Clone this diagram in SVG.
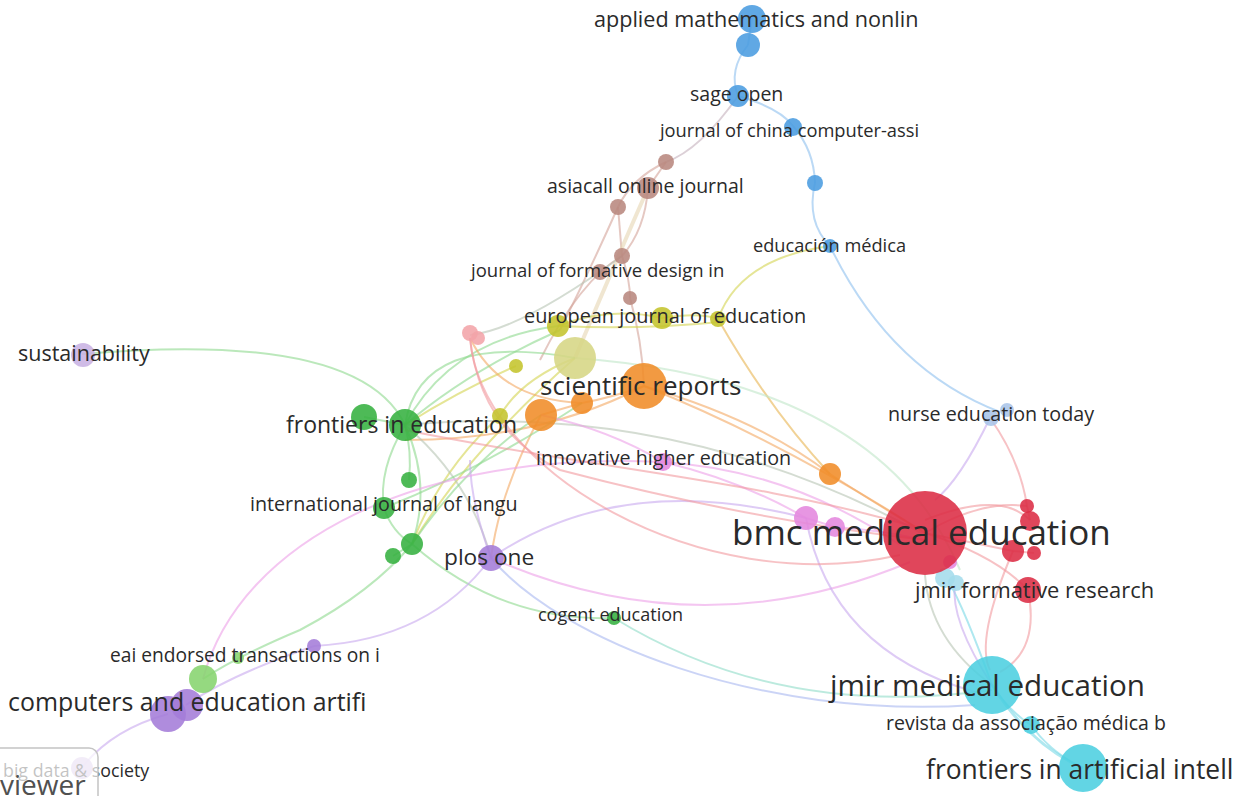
<svg xmlns="http://www.w3.org/2000/svg" width="1252" height="796" viewBox="0 0 1252 796">
<style>
text{font-family:"Open Sans","Noto Sans","Liberation Sans",sans-serif;fill:#2a2a2a}
.e{fill:none;stroke-width:2;stroke-opacity:.6}
.bl{stroke:#8ec0ee}.br{stroke:#d4a49a}.ye{stroke:#d4d450}.or{stroke:#f4a862}.gr{stroke:#8ed88e}
.pu{stroke:#c8a8ee}.pk{stroke:#eca0e8}.rd{stroke:#f29a9e}.cy{stroke:#7ad8e6}.gy{stroke:#b8c4b4}
.lg{stroke:#bfe6c8}.bp{stroke:#a8b8f0}
circle{opacity:.88}
.cB{fill:#4a9ce0}.cBr{fill:#b8877e}.cY{fill:#c4c42c}.cYp{fill:#d6d684}.cO{fill:#f08c28}.cG{fill:#36b040}
.cLG{fill:#86d46e}.cP{fill:#a47cd8}.cLP{fill:#c8b2e2}.cPk{fill:#e488de}.cR{fill:#dc2c44}.cS{fill:#f2a4a8}
.cC{fill:#4ccfe0}.cLC{fill:#a4dcec}.cN{fill:#a8c4e8}
</style>
<g id="edges">
<path class="e bl" d="M752,18 L748,45"/>
<path class="e bl" d="M748,45 Q728,70 738,96"/>
<path class="e bl" d="M738,96 Q780,108 793,126"/>
<path class="e bl" d="M793,126 Q814,150 815,183"/>
<path class="e bl" d="M815,183 Q806,222 830,246"/>
<path class="e bl" d="M830,246 Q890,370 1000,412"/>
<path class="e br" style="stroke:#c4b0bc" d="M738,96 Q700,150 666,162"/>
<path class="e br" d="M666,162 L648,188"/>
<path class="e br" d="M666,162 Q632,178 618,207"/>
<path class="e br" d="M618,207 L622,256"/>
<path class="e br" d="M648,188 Q645,230 622,256"/>
<path class="e br" d="M622,256 Q630,280 630,298"/>
<path class="e br" d="M618,207 Q590,270 560,330"/>
<path class="e br" d="M622,256 Q580,280 540,360"/>
<path class="e" style="stroke:#e6d6b2;stroke-width:4" d="M648,188 Q612,270 575,358"/>
<path class="e br" d="M630,298 Q642,340 644,386"/>
<path class="e gy" d="M622,256 Q520,330 470,335"/>
<path class="e ye" d="M558,326 Q610,306 662,318 Q700,312 718,319"/>
<path class="e ye" d="M718,319 Q740,258 830,246"/>
<path class="e ye" style="stroke:#e8b450" d="M718,319 Q770,410 830,474"/>
<path class="e ye" d="M575,358 Q520,380 500,416"/>
<path class="e ye" d="M558,326 Q640,330 720,322"/>
<path class="e gr" d="M558,326 Q450,340 405,425"/>
<path class="e ye" d="M575,358 Q470,450 412,544"/>
<path class="e ye" d="M500,416 Q440,470 412,544"/>
<path class="e ye" d="M516,366 Q460,390 405,425"/>
<path class="e or" d="M644,386 Q610,398 582,403"/>
<path class="e or" d="M582,403 L541,415"/>
<path class="e or" d="M644,386 Q780,440 925,533"/>
<path class="e or" d="M830,474 Q870,500 925,533"/>
<path class="e or" d="M644,386 Q760,420 830,474"/>
<path class="e or" d="M582,403 Q500,400 470,338"/>
<path class="e or" d="M644,386 Q540,440 405,440"/>
<path class="e or" d="M541,415 Q500,490 491,558"/>
<path class="e gr" d="M364,417 L405,425"/>
<path class="e gr" d="M405,425 Q412,452 409,480"/>
<path class="e gr" d="M405,425 Q378,470 384,508"/>
<path class="e gr" d="M405,425 Q432,485 412,544"/>
<path class="e gr" d="M384,508 Q392,532 412,544"/>
<path class="e gr" d="M412,544 L393,556"/>
<path class="e gr" d="M405,425 Q360,330 82,354"/>
<path class="e gr" d="M203,679 Q238,656 300,630 Q372,592 412,544"/>
<path class="e gr" d="M412,544 Q500,622 614,618"/>
<path class="e gr" style="stroke:#90dcc8" d="M614,618 Q780,720 992,690"/>
<path class="e gy" d="M405,425 Q470,480 491,558"/>
<path class="e gr" d="M405,425 Q470,370 560,330"/>
<path class="e gr" d="M412,544 Q470,460 541,415"/>
<path class="e gr" d="M405,425 Q420,330 575,358"/>
<path class="e gy" d="M405,425 Q680,400 925,535"/>
<path class="e lg" d="M575,358 Q880,380 960,570"/>
<path class="e gr" d="M384,508 Q480,470 582,403"/>
<path class="e pu" d="M491,558 Q470,500 470,460"/>
<path class="e pu" d="M491,558 Q620,470 806,518"/>
<path class="e pk" d="M491,558 Q700,650 910,562"/>
<path class="e bp" d="M491,558 C560,640 760,720 975,705"/>
<path class="e pu" d="M491,558 Q430,640 314,646"/>
<path class="e pu" d="M314,646 Q230,675 186,705"/>
<path class="e pu" d="M168,714 Q110,730 80,770"/>
<path class="e pk" d="M203,679 C240,540 420,450 663,462"/>
<path class="e pk" d="M541,415 Q610,430 663,462"/>
<path class="e pk" d="M663,462 Q740,480 806,518"/>
<path class="e pk" d="M806,518 L835,527"/>
<path class="e pk" d="M835,527 Q880,530 925,540"/>
<path class="e pk" d="M663,462 Q790,470 900,545"/>
<path class="e pu" d="M806,518 Q830,650 975,692"/>
<path class="e rd" d="M925,533 Q980,500 1027,506"/>
<path class="e rd" d="M925,533 L1013,551"/>
<path class="e rd" d="M925,533 Q995,555 1028,590"/>
<path class="e rd" d="M1013,551 L1034,553"/>
<path class="e rd" d="M1027,506 L1030,520"/>
<path class="e rd" d="M925,520 Q1000,490 1030,520"/>
<path class="e rd" d="M470,338 Q480,430 560,470 Q750,520 925,540"/>
<path class="e rd" d="M470,338 C480,470 700,600 900,555"/>
<path class="e rd" d="M405,430 C600,470 760,480 925,530"/>
<path class="e rd" d="M990,418 Q1020,460 1027,506"/>
<path class="e pu" d="M990,418 Q960,480 935,500"/>
<path class="e rd" d="M1028,590 Q1040,650 1000,672"/>
<path class="e rd" d="M1013,551 Q975,640 990,670"/>
<path class="e cy" d="M992,685 Q1010,712 1031,725"/>
<path class="e cy" d="M1031,725 Q1050,752 1083,768"/>
<path class="e cy" style="stroke-width:3" d="M992,685 Q1030,745 1083,768"/>
<path class="e cy" d="M992,685 Q965,610 948,580"/>
<path class="e gy" d="M992,685 Q930,640 925,575"/>
<path class="e pu" d="M992,685 Q950,620 955,585"/>
</g>
<g id="n-am1"><circle class="cB" cx="748" cy="45" r="12"/></g>
<g id="n-applied"><circle class="cB" cx="752" cy="19" r="14"/><text x="594" y="27" font-size="21.6">applied mathematics and nonlin</text></g>
<g id="n-sage"><circle class="cB" cx="738" cy="96" r="11"/><text x="690" y="101" font-size="19.5">sage open</text></g>
<g id="n-china"><circle class="cB" cx="793" cy="127" r="9"/><text x="660" y="137" font-size="18.3">journal of china computer-assi</text></g>
<g id="n-b4"><circle class="cB" cx="815" cy="183" r="8"/></g>
<g id="n-edmed"><circle class="cB" cx="830" cy="246" r="7"/><text x="753" y="252" font-size="18.2">educación médica</text></g>
<g id="n-nurse"><circle class="cN" cx="1007" cy="410" r="7"/><circle class="cN" cx="991" cy="418" r="8"/><text x="888" y="421" font-size="19.7">nurse education today</text></g>
<g id="n-br1"><circle class="cBr" cx="666" cy="162" r="8"/></g>
<g id="n-br2"><circle class="cBr" cx="618" cy="207" r="8"/></g>
<g id="n-br3"><circle class="cBr" cx="622" cy="256" r="8"/></g>
<g id="n-br4"><circle class="cBr" cx="630" cy="298" r="7"/></g>
<g id="n-asiacall"><circle class="cBr" cx="648" cy="188" r="11"/><text x="547" y="193" font-size="19.5">asiacall online journal</text></g>
<g id="n-formative"><circle class="cBr" cx="600" cy="272" r="8"/><text x="471" y="277" font-size="18.5">journal of formative design in</text></g>
<g id="n-s1"><circle class="cS" cx="470" cy="333" r="8"/><circle class="cS" cx="478" cy="338" r="7"/></g>
<g id="n-y2"><circle class="cY" cx="516" cy="366" r="7"/></g>
<g id="n-y3"><circle class="cY" cx="500" cy="416" r="8"/></g>
<g id="n-ypale"><circle class="cYp" cx="575" cy="358" r="21"/></g>
<g id="n-eje"><circle class="cY" cx="558" cy="326" r="11"/><circle class="cY" cx="662" cy="318" r="11"/><circle class="cY" cx="718" cy="319" r="8"/><text x="524" y="323" font-size="19.9">european journal of education</text></g>
<g id="n-o2"><circle class="cO" cx="541" cy="415" r="16"/></g>
<g id="n-o3"><circle class="cO" cx="582" cy="403" r="11"/></g>
<g id="n-o4"><circle class="cO" cx="830" cy="474" r="11"/></g>
<g id="n-sci"><circle class="cO" cx="644" cy="386" r="23"/><text x="540" y="395" font-size="26">scientific reports</text></g>
<g id="n-g1"><circle class="cG" cx="364" cy="417" r="13"/></g>
<g id="n-g2"><circle class="cG" cx="409" cy="480" r="8"/></g>
<g id="n-g3"><circle class="cG" cx="412" cy="544" r="11"/></g>
<g id="n-g4"><circle class="cG" cx="393" cy="556" r="8"/></g>
<g id="n-fie"><circle class="cG" cx="405" cy="425" r="16"/><text x="286" y="433" font-size="23">frontiers in education</text></g>
<g id="n-ijl"><circle class="cG" cx="384" cy="508" r="11"/><text x="250" y="511" font-size="19.7">international journal of langu</text></g>
<g id="n-cogent"><circle class="cG" cx="614" cy="618" r="7"/><text x="538" y="621" font-size="18">cogent education</text></g>
<g id="n-ih"><circle class="cPk" cx="663" cy="462" r="9"/><text x="536" y="465" font-size="19.7">innovative higher education</text></g>
<g id="n-pk2"><circle class="cPk" cx="806" cy="518" r="12"/><circle class="cPk" cx="835" cy="527" r="10"/></g>
<g id="n-plos"><circle class="cP" cx="491" cy="558" r="13"/><text x="444" y="565" font-size="22.7">plos one</text></g>
<g id="n-p2"><circle class="cP" cx="314" cy="646" r="7"/></g>
<g id="n-lg1"><circle class="cLG" cx="238" cy="658" r="6"/></g>
<g id="n-eai"><circle class="cLG" cx="203" cy="679" r="14"/><text x="110" y="662" font-size="19.2">eai endorsed transactions on i</text></g>
<g id="n-cae"><circle class="cP" cx="168" cy="714" r="18"/><circle class="cP" cx="187" cy="705" r="16"/><text x="8" y="711" font-size="24.9">computers and education artifi</text></g>
<g id="n-sust"><circle class="cLP" cx="83" cy="355" r="12"/><text x="18" y="361" font-size="21.5">sustainability</text></g>
<g id="n-bigdata"><circle class="cLP" cx="82" cy="768" r="11"/><text x="3" y="777" font-size="17.8">big data &amp; society</text></g>
<g id="n-r1"><circle class="cR" cx="1027" cy="506" r="7"/></g>
<g id="n-r2"><circle class="cR" cx="1030" cy="521" r="10"/></g>
<g id="n-r3"><circle class="cR" cx="1013" cy="551" r="11"/></g>
<g id="n-r4"><circle class="cR" cx="1034" cy="553" r="7"/></g>
<g id="n-lc"><circle class="cLC" cx="945" cy="578" r="10"/><circle class="cLC" cx="956" cy="583" r="8"/><circle class="cPk" cx="950" cy="562" r="7"/></g>
<g id="n-bmc"><circle class="cR" cx="925" cy="533" r="42"/><text x="732" y="545" font-size="35">bmc medical education</text></g>
<g id="n-jfr"><circle class="cR" cx="1028" cy="590" r="13"/><text x="915" y="598" font-size="21.9">jmir formative research</text></g>
<g id="n-jme"><circle class="cC" cx="992" cy="685" r="29"/><text x="830" y="696" font-size="29.6">jmir medical education</text></g>
<g id="n-revista"><circle class="cC" cx="1031" cy="725" r="9"/><text x="886" y="730" font-size="19.5">revista da associação médica b</text></g>
<g id="n-fai"><circle class="cC" cx="1083" cy="768" r="24"/><text x="926" y="779" font-size="26.4">frontiers in artificial intell</text></g>
<g id="logo"><rect x="-10" y="748" width="108" height="60" rx="9" fill="#ffffff" fill-opacity="0.72" stroke="#c4c4c4" stroke-width="1.5"/><text x="0" y="795" font-size="28" style="fill:#505050">viewer</text></g>
</svg>
